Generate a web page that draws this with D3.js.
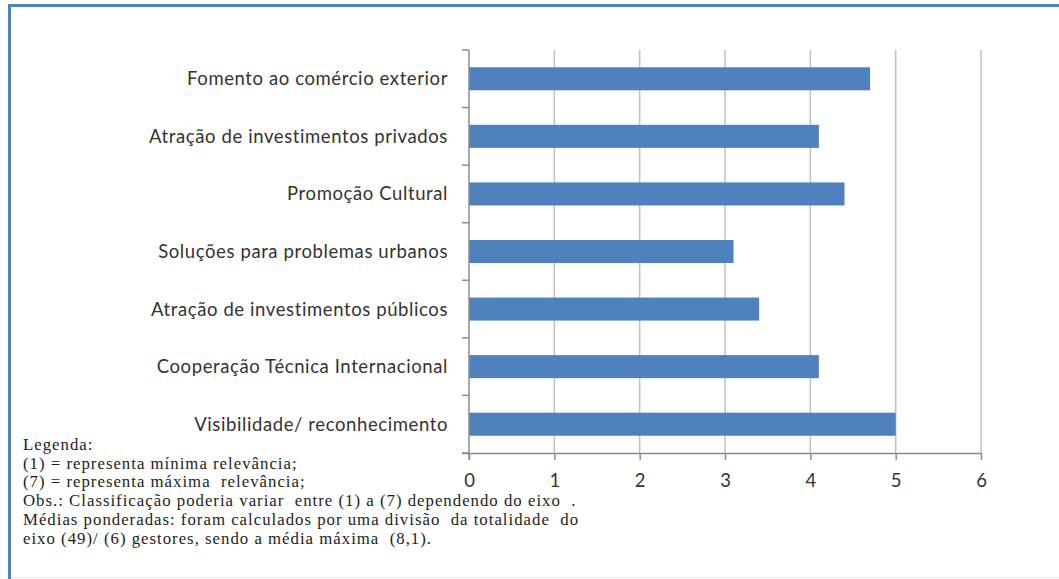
<!DOCTYPE html>
<html>
<head>
<meta charset="utf-8">
<script src="https://cdn.jsdelivr.net/npm/d3@7"></script>
<style>
  body { margin: 0; background: #fff; }
  .cat text { font-family: Lato, "Open Sans", sans-serif; font-size: 18.5px; letter-spacing: 0.6px; fill: #333; }
  .xaxis text { font-family: Lato, "Open Sans", sans-serif; font-size: 18.5px; fill: #333; }
  .legend text { font-family: "Liberation Serif", "DejaVu Serif", serif; font-size: 16.8px; letter-spacing: 1px; fill: #1e1e1e; }
</style>
</head>
<body>
<svg id="chart" width="1059" height="579"></svg>
<script>
// categories, top to bottom
var categories = [
    "Fomento ao comércio exterior",
    "Atração de investimentos privados",
    "Promoção Cultural",
    "Soluções para problemas urbanos",
    "Atração de investimentos públicos",
    "Cooperação Técnica Internacional",
    "Visibilidade/ reconhecimento"
];

// weighted means
var values = [4.7, 4.1, 4.4, 3.1, 3.4, 4.1, 5.0];

var xTicks = [0, 1, 2, 3, 4, 5, 6];

var notes = [
    "Legenda:",
    "(1) = representa mínima relevância;",
    "(7) = representa máxima  relevância;",
    "Obs.: Classificação poderia variar  entre (1) a (7) dependendo do eixo  .",
    "Médias ponderadas: foram calculados por uma divisão  da totalidade  do",
    "eixo (49)/ (6) gestores, sendo a média máxima  (8,1)."
];

var svg = d3.select("#chart");

// frame
svg.append("line")
    .attr("x1", 8).attr("x2", 1059).attr("y1", 5.5).attr("y2", 5.5)
    .attr("stroke", "#4f81bd").attr("stroke-width", 3);
svg.append("line")
    .attr("x1", 9.5).attr("x2", 9.5).attr("y1", 4).attr("y2", 579)
    .attr("stroke", "#4f81bd").attr("stroke-width", 3);
svg.append("line")
    .attr("x1", 11).attr("x2", 1059).attr("y1", 577.5).attr("y2", 577.5)
    .attr("stroke", "#ececec").attr("stroke-width", 1);

var x = d3.scaleLinear().domain([0, 6]).range([469, 981]);
var y = d3.scaleBand().domain(categories).range([50, 453]).paddingInner(0.6).paddingOuter(0.3);
var step = y.step();

// gridlines
svg.append("g")
    .selectAll("line")
    .data(xTicks.slice(1))
    .enter()
    .append("line")
    .attr("x1", function(d) { return x(d); })
    .attr("x2", function(d) { return x(d); })
    .attr("y1", 50)
    .attr("y2", 453)
    .attr("stroke", "#c0c0c0")
    .attr("stroke-width", 1.5);

// bars
svg.append("g")
    .selectAll("rect")
    .data(values)
    .enter()
    .append("rect")
    .attr("x", x(0))
    .attr("y", function(d, i) { return y(categories[i]); })
    .attr("width", function(d) { return x(d) - x(0); })
    .attr("height", y.bandwidth())
    .attr("fill", "#4f81bd");

// left axis with ticks between categories
var cat = svg.append("g").attr("class", "cat");
cat.append("line")
    .attr("x1", x(0)).attr("x2", x(0)).attr("y1", 50).attr("y2", 460)
    .attr("stroke", "#8c8c8c").attr("stroke-width", 1.5);
cat.selectAll("line.tk")
    .data(d3.range(categories.length + 1))
    .enter()
    .append("line")
    .attr("class", "tk")
    .attr("x1", x(0) - 7).attr("x2", x(0))
    .attr("y1", function(i) { return 50 + i * step; })
    .attr("y2", function(i) { return 50 + i * step; })
    .attr("stroke", "#8c8c8c").attr("stroke-width", 1.5);
cat.selectAll("text")
    .data(categories)
    .enter()
    .append("text")
    .attr("x", 448)
    .attr("y", function(d) { return y(d) + y.bandwidth() / 2; })
    .attr("dy", "0.35em")
    .attr("text-anchor", "end")
    .text(function(d) { return d; });

// bottom axis
var xAxis = svg.append("g")
    .attr("class", "xaxis")
    .attr("transform", "translate(0,453)")
    .call(d3.axisBottom(x).tickValues(xTicks).tickSize(7).tickPadding(14).tickFormat(d3.format("d")));
xAxis.select(".domain").attr("stroke", "#8c8c8c").attr("stroke-width", 1.5).attr("d", "M462,0.5H981");
xAxis.selectAll(".tick line").attr("stroke", "#8c8c8c").attr("stroke-width", 1.5);

// notes under the chart
svg.append("g")
    .attr("class", "legend")
    .selectAll("text")
    .data(notes)
    .enter()
    .append("text")
    .attr("x", 23)
    .attr("y", function(d, i) { return 450 + i * 18.7; })
    .attr("xml:space", "preserve")
    .text(function(d) { return d; });
</script>
</body>
</html>
